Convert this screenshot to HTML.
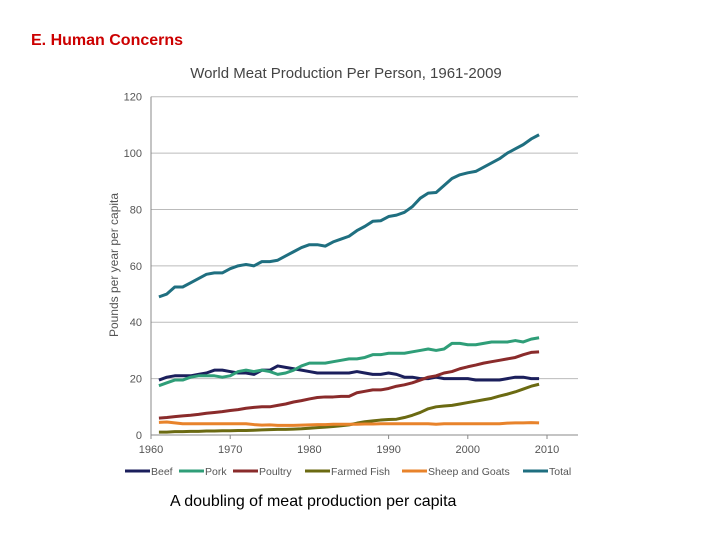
<!DOCTYPE html>
<html><head><meta charset="utf-8"><style>
body{margin:0;background:#fff;width:720px;height:540px;overflow:hidden;font-family:"Liberation Sans",sans-serif;}
</style></head><body>
<svg id="chart" width="720" height="540" xmlns="http://www.w3.org/2000/svg" font-family="Liberation Sans, sans-serif">
<text x="31" y="45" font-size="16" font-weight="bold" fill="#cc0000">E. Human Concerns</text>
<text x="346" y="78" font-size="15" fill="#444" text-anchor="middle">World Meat Production Per Person, 1961-2009</text>
<text transform="translate(118,265) rotate(-90)" font-size="12" fill="#555" text-anchor="middle">Pounds per year per capita</text>
<text x="170" y="506" font-size="16" fill="#000">A doubling of meat production per capita</text>
<g id="grid"></g><g id="series"></g><g id="legend"></g>
</svg>
<script>
const years=[];for(let y=1961;y<=2009;y++)years.push(y);
const yTicks=[0,20,40,60,80,100,120];
const xTicks=[1960,1970,1980,1990,2000,2010];
const seriesNames=["Beef","Pork","Poultry","Farmed Fish","Sheep and Goats","Total"];
const beef=[19.5,20.5,21,21,21,21.5,22,23,23,22.5,22,22,21.5,23,23,24.5,24,23.5,23,22.5,22,22,22,22,22,22.5,22,21.5,21.5,22,21.5,20.5,20.5,20,20,20.5,20,20,20,20,19.5,19.5,19.5,19.5,20,20.5,20.5,20,20];
const pork=[17.5,18.5,19.5,19.5,20.5,21,21,21,20.5,21,22.5,23,22.5,23,22.5,21.5,22,23,24.5,25.5,25.5,25.5,26,26.5,27,27,27.5,28.5,28.5,29,29,29,29.5,30,30.5,30,30.5,32.5,32.5,32,32,32.5,33,33,33,33.5,33,34,34.5];
const poultry=[6,6.2,6.5,6.8,7,7.3,7.7,8,8.3,8.7,9,9.5,9.8,10,10,10.5,11,11.7,12.2,12.8,13.3,13.5,13.5,13.7,13.7,15,15.5,16,16,16.5,17.3,17.8,18.5,19.5,20.5,21,22,22.5,23.5,24.2,24.8,25.5,26,26.5,27,27.5,28.5,29.3,29.5];
const fish=[1,1,1.2,1.2,1.3,1.3,1.4,1.4,1.5,1.5,1.6,1.6,1.7,1.8,1.9,2,2,2.1,2.2,2.4,2.6,2.8,3,3.3,3.6,4.2,4.7,5,5.3,5.5,5.6,6.2,7,8,9.3,10,10.3,10.5,11,11.5,12,12.5,13,13.8,14.5,15.3,16.3,17.3,18];
const sheep=[4.5,4.6,4.3,4,4,4,4,4,4,4,4,4,3.7,3.5,3.6,3.4,3.4,3.4,3.5,3.6,3.7,3.7,3.8,3.8,3.8,3.8,3.9,3.9,4,4,4,4,4,4,4,3.8,4,4,4,4,4,4,4,4,4.2,4.3,4.3,4.4,4.3];
const total=[49,50,52.5,52.5,54,55.5,57,57.5,57.5,59,60,60.5,60,61.5,61.5,62,63.5,65,66.5,67.5,67.5,67,68.5,69.5,70.5,72.5,74,75.8,76,77.5,78,79,81,84,85.8,86,88.5,91,92.3,93,93.5,95,96.5,98,100,101.5,103,105,106.5];
const colors=["#1b1f5c","#2f9e78","#8a2b2b","#6b6a12","#e8832b","#1f6f80"];
const data=[beef,pork,poultry,fish,sheep,total];
const X0=151,X1=547,Y0=435,Y1=96.7,R=578;
const xs=v=>X0+(v-1960)*(X1-X0)/50;
const ys=v=>Y0+(v)*(Y1-Y0)/120;
const NS="http://www.w3.org/2000/svg";
function mk(t,a,p){const e=document.createElementNS(NS,t);for(const k in a)e.setAttribute(k,a[k]);p.appendChild(e);return e;}
const g=document.getElementById('grid');
yTicks.forEach(t=>{
 const l=mk('line',{x1:X0,x2:R,y1:ys(t),y2:ys(t),stroke:t===0?'#888':'#bbb','stroke-width':1},g);
 
 
 const tx=mk('text',{x:X0-9,y:ys(t)+4,'font-size':11,fill:'#555','text-anchor':'end'},g);tx.textContent=t;
 
 
});
const ax=mk('line',{x1:X0,x2:X0,y1:Y1,y2:Y0,stroke:'#888'},g);


xTicks.forEach(t=>{
 mk('line',{x1:xs(t),x2:xs(t),y1:Y0,y2:Y0+4,stroke:'#888'},g);
 const tx=mk('text',{x:xs(t),y:Y0+18,'font-size':11,fill:'#555','text-anchor':'middle'},g);tx.textContent=t;
 
 
});
const s=document.getElementById('series');
data.forEach((arr,i)=>{
 const p=mk('polyline',{points:arr.map((v,j)=>xs(years[j])+','+ys(v)).join(' '),fill:'none',stroke:colors[i],'stroke-width':3,'stroke-linejoin':'round'},s);
 
 
});
const lg=document.getElementById('legend');
const lx=[125,179,233,305,402,523];
seriesNames.forEach((n,i)=>{
 const e=mk('g',{},lg);
 
 
 mk('line',{x1:lx[i],x2:lx[i]+25,y1:471,y2:471,stroke:colors[i],'stroke-width':3},e);
 const t=mk('text',{x:lx[i]+26,y:475,'font-size':10.5,fill:'#555'},e);t.textContent=n;
});
</script>
</body></html>
